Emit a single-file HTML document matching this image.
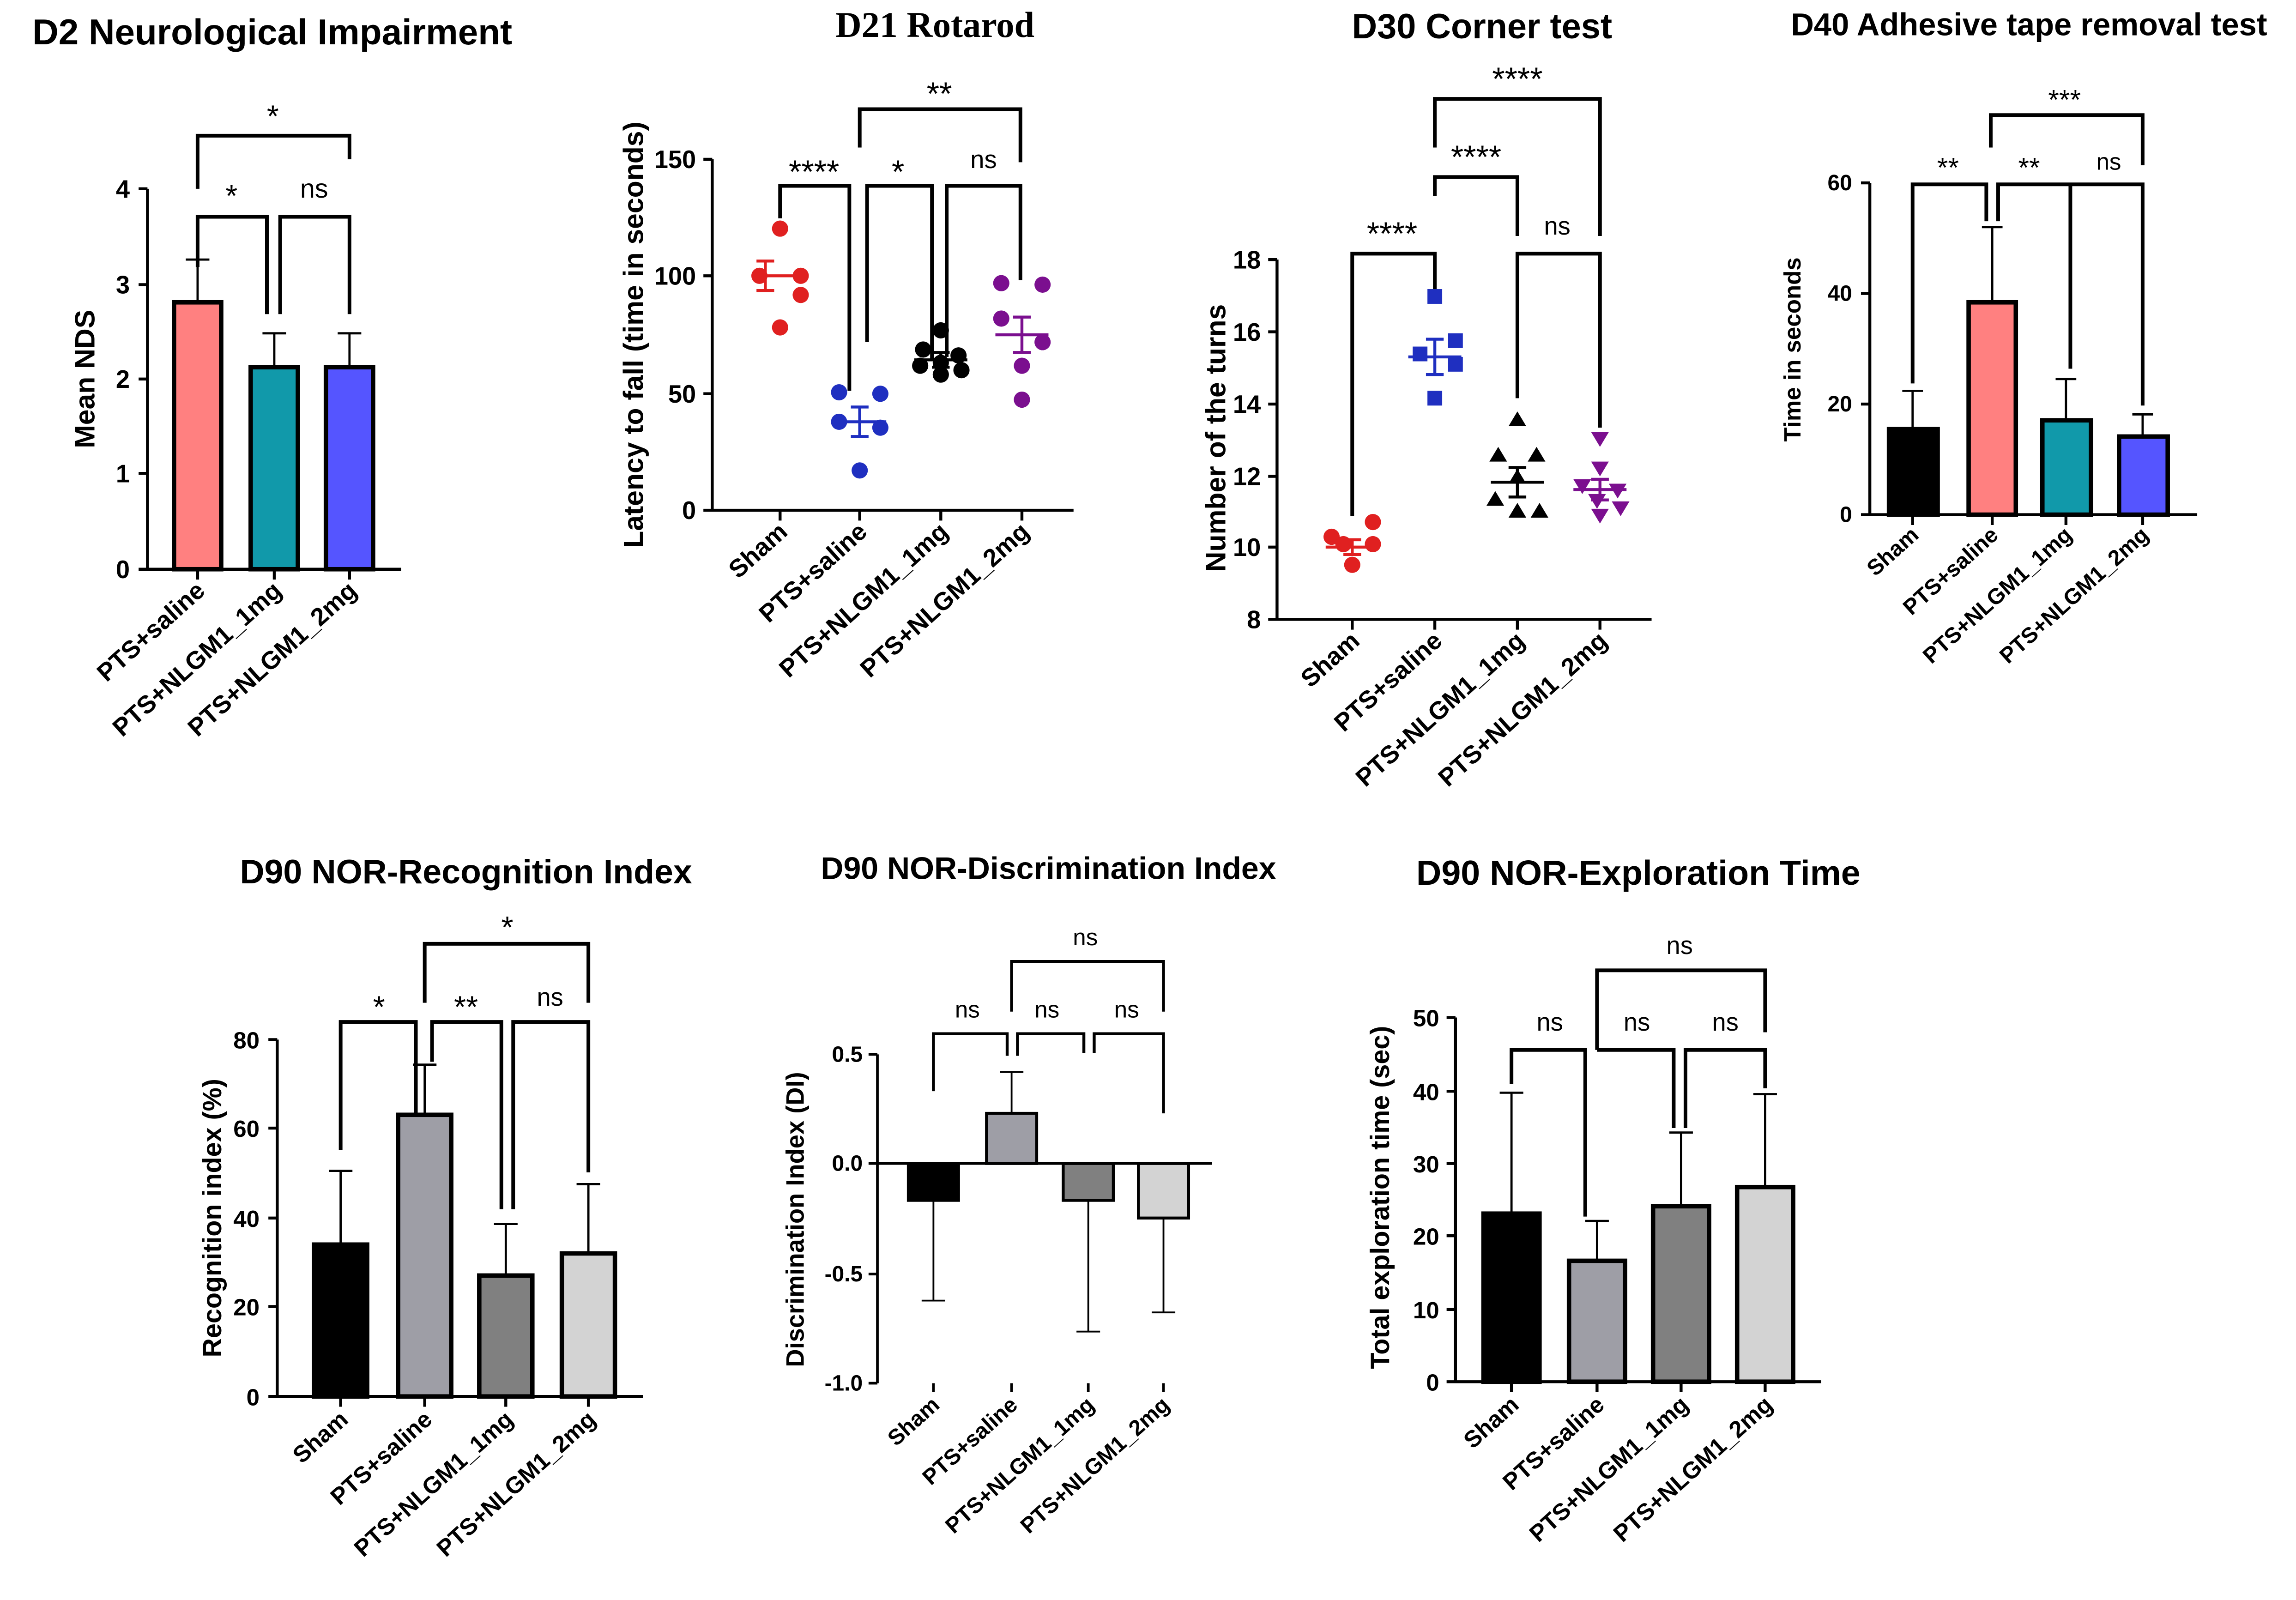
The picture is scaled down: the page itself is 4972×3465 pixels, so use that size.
<!DOCTYPE html>
<html><head><meta charset="utf-8"><style>html,body{margin:0;padding:0;background:#fff}svg{display:block}</style></head>
<body>
<svg width="4972" height="3465" viewBox="0 0 1557 1085" xmlns="http://www.w3.org/2000/svg" font-family="Liberation Sans, Arial, sans-serif">
<rect width="1557" height="1085" fill="#fff"/>
<g fill="none" stroke="#000" stroke-width="2">
<path d="M100 128V386H272 M94 128H100 M94 193H100 M94 257H100 M94 321H100 M94 386H100 M134 386v7 M186 386v7 M237 386v7"/>
<path d="M134 128V92H237V108 M134 181V147H181V213 M190 213V147H237V213" stroke-width="2.5"/>
<path d="M134 205V176M126 176H142 M186 249V226M178 226H194 M237 249V226M229 226H245" stroke-width="1.5"/>
</g>
<rect x="118" y="205" width="32" height="181" fill="#ff8080" stroke="#000" stroke-width="3"/>
<rect x="170" y="249" width="32" height="137" fill="#1199aa" stroke="#000" stroke-width="3"/>
<rect x="221" y="249" width="32" height="137" fill="#5555ff" stroke="#000" stroke-width="3"/>
<g font-weight="bold" font-size="17">
<text x="22" y="30" font-size="24.5">D2 Neurological Impairment</text>
<g text-anchor="end"><text x="88" y="134">4</text><text x="88" y="199">3</text><text x="88" y="263">2</text><text x="88" y="327">1</text><text x="88" y="392">0</text></g>
<text transform="translate(64 257) rotate(-90)" text-anchor="middle" font-size="19">Mean NDS</text>
<g text-anchor="end"><text transform="translate(140 402) rotate(-42)">PTS+saline</text><text transform="translate(192 402) rotate(-42)">PTS+NLGM1_1mg</text><text transform="translate(243 402) rotate(-42)">PTS+NLGM1_2mg</text></g>
<g text-anchor="middle" font-size="21" font-weight="normal"><text x="157" y="140">*</text><text x="213" y="134" font-size="18">ns</text><text x="185" y="86">*</text></g>
</g>

<g fill="none" stroke="#000" stroke-width="2">
<path d="M483 108V346H728 M477 108H483 M477 187H483 M477 267H483 M477 346H483 M529 346v7 M583 346v7 M638 346v7 M693 346v7"/>
<path d="M529 148V126H576V265 M588 232V126H632V245 M642 242V126H692V190 M583 100V74H692V110" stroke-width="2.5"/>
</g>
<g stroke-width="2" fill="none">
<path d="M511 187H547M519 177V197M513 177H525M513 197H525" stroke="#e02020"/>
<path d="M565 286H601M583 276V296M577 276H589M577 296H589" stroke="#1f2fc0"/>
<path d="M620 244H656M638 239V249M632 239H644M632 249H644" stroke="#000"/>
<path d="M675 227H711M693 215V239M687 215H699M687 239H699" stroke="#7b0f8f"/>
</g>
<g fill="#e02020"><circle cx="529" cy="155" r="5.5"/><circle cx="515" cy="187" r="5.5"/><circle cx="543" cy="187" r="5.5"/><circle cx="543" cy="200" r="5.5"/><circle cx="529" cy="222" r="5.5"/></g>
<g fill="#1f2fc0"><circle cx="569" cy="266" r="5.5"/><circle cx="597" cy="267" r="5.5"/><circle cx="569" cy="286" r="5.5"/><circle cx="597" cy="290" r="5.5"/><circle cx="583" cy="319" r="5.5"/></g>
<g fill="#000"><circle cx="638" cy="224" r="5.5"/><circle cx="626" cy="237" r="5.5"/><circle cx="650" cy="241" r="5.5"/><circle cx="638" cy="246" r="5.5"/><circle cx="624" cy="248" r="5.5"/><circle cx="652" cy="251" r="5.5"/><circle cx="638" cy="254" r="5.5"/></g>
<g fill="#7b0f8f"><circle cx="679" cy="192" r="5.5"/><circle cx="707" cy="193" r="5.5"/><circle cx="679" cy="216" r="5.5"/><circle cx="707" cy="232" r="5.5"/><circle cx="693" cy="248" r="5.5"/><circle cx="693" cy="271" r="5.5"/></g>
<g font-weight="bold" font-size="17">
<text x="634" y="25" text-anchor="middle" font-family="Liberation Serif, serif" font-size="24.5">D21 Rotarod</text>
<g text-anchor="end"><text x="472" y="114">150</text><text x="472" y="193">100</text><text x="472" y="273">50</text><text x="472" y="352">0</text></g>
<text transform="translate(436 227) rotate(-90)" text-anchor="middle" font-size="19">Latency to fall (time in seconds)</text>
<g text-anchor="end"><text transform="translate(535 362) rotate(-42)">Sham</text><text transform="translate(589 362) rotate(-42)">PTS+saline</text><text transform="translate(644 362) rotate(-42)">PTS+NLGM1_1mg</text><text transform="translate(699 362) rotate(-42)">PTS+NLGM1_2mg</text></g>
<g text-anchor="middle" font-size="22" font-weight="normal"><text x="552" y="124">****</text><text x="609" y="124">*</text><text x="667" y="114" font-size="17">ns</text><text x="637" y="71">**</text></g>
</g>

<g fill="none" stroke="#000" stroke-width="2">
<path d="M866 176V420H1120 M860 176H866 M860 225H866 M860 274H866 M860 323H866 M860 371H866 M860 420H866 M917 420v7 M973 420v7 M1029 420v7 M1085 420v7"/>
<path d="M917 350V172H973V200 M973 133V120H1029V160 M1029 270V172H1085V290 M973 100V67H1085V160" stroke-width="2.5"/>
</g>
<g stroke-width="2" fill="none">
<path d="M899 371H935M917 366V376M911 366H923M911 376H923" stroke="#e02020"/>
<path d="M955 242H991M973 230V254M967 230H979M967 254H979" stroke="#1f2fc0"/>
<path d="M1011 327H1047M1029 317V337M1023 317H1035M1023 337H1035" stroke="#000"/>
<path d="M1067 332H1103M1085 325V339M1079 325H1091M1079 339H1091" stroke="#7b0f8f"/>
</g>
<g fill="#e02020"><circle cx="931" cy="354" r="5.5"/><circle cx="903" cy="364" r="5.5"/><circle cx="931" cy="369" r="5.5"/><circle cx="911" cy="369" r="5.5"/><circle cx="917" cy="383" r="5.5"/></g>
<g fill="#1f2fc0"><rect x="968" y="196" width="10" height="10"/><rect x="982" y="226" width="10" height="10"/><rect x="958" y="235" width="10" height="10"/><rect x="982" y="242" width="10" height="10"/><rect x="968" y="265" width="10" height="10"/></g>
<g fill="#000"><path d="M1029 279l6 10h-12z M1016 303l6 10h-12z M1042 303l6 10h-12z M1029 318l6 10h-12z M1014 333l6 10h-12z M1029 341l6 10h-12z M1044 341l6 10h-12z"/></g>
<g fill="#7b0f8f"><path d="M1079 293h12l-6 10z M1079 313h12l-6 10z M1067 325h12l-6 10z M1091 328h12l-6 10z M1077 335h12l-6 10z M1093 340h12l-6 10z M1079 345h12l-6 10z"/></g>
<g font-weight="bold" font-size="17">
<text x="1005" y="26" text-anchor="middle" font-size="23.7">D30 Corner test</text>
<g text-anchor="end"><text x="855" y="182">18</text><text x="855" y="231">16</text><text x="855" y="280">14</text><text x="855" y="329">12</text><text x="855" y="377">10</text><text x="855" y="426">8</text></g>
<text transform="translate(831 297) rotate(-90)" text-anchor="middle" font-size="19">Number of the turns</text>
<g text-anchor="end"><text transform="translate(923 436) rotate(-42)">Sham</text><text transform="translate(979 436) rotate(-42)">PTS+saline</text><text transform="translate(1035 436) rotate(-42)">PTS+NLGM1_1mg</text><text transform="translate(1091 436) rotate(-42)">PTS+NLGM1_2mg</text></g>
<g text-anchor="middle" font-size="22" font-weight="normal"><text x="944" y="166">****</text><text x="1001" y="114">****</text><text x="1056" y="159" font-size="17">ns</text><text x="1029" y="61">****</text></g>
</g>

<g fill="none" stroke="#000" stroke-width="2">
<path d="M1268 124V349H1490 M1262 124H1268 M1262 199H1268 M1262 274H1268 M1262 349H1268 M1297 349v7 M1351 349v7 M1401 349v7 M1453 349v7"/>
<path d="M1297 260V125H1347V150 M1355 150V125H1404V250 M1404 250V125H1453V275 M1350 100V78H1453V112" stroke-width="2.5"/>
<path d="M1297 291V265M1290 265H1304 M1351 205V154M1344 154H1358 M1401 285V257M1394 257H1408 M1453 296V281M1446 281H1460" stroke-width="1.5"/>
</g>
<rect x="1281" y="291" width="33" height="58" fill="#000" stroke="#000" stroke-width="3"/>
<rect x="1335" y="205" width="32" height="144" fill="#ff8080" stroke="#000" stroke-width="3"/>
<rect x="1385" y="285" width="33" height="64" fill="#1199aa" stroke="#000" stroke-width="3"/>
<rect x="1437" y="296" width="33" height="53" fill="#5555ff" stroke="#000" stroke-width="3"/>
<g font-weight="bold" font-size="15">
<text x="1376" y="24" text-anchor="middle" font-size="21.5">D40 Adhesive tape removal test</text>
<g text-anchor="end"><text x="1256" y="129">60</text><text x="1256" y="204">40</text><text x="1256" y="279">20</text><text x="1256" y="354">0</text></g>
<text transform="translate(1221 237) rotate(-90)" text-anchor="middle" font-size="16">Time in seconds</text>
<g text-anchor="end"><text transform="translate(1302 364) rotate(-42)">Sham</text><text transform="translate(1356 364) rotate(-42)">PTS+saline</text><text transform="translate(1406 364) rotate(-42)">PTS+NLGM1_1mg</text><text transform="translate(1458 364) rotate(-42)">PTS+NLGM1_2mg</text></g>
<g text-anchor="middle" font-size="19" font-weight="normal"><text x="1321" y="120">**</text><text x="1376" y="120">**</text><text x="1430" y="115" font-size="16">ns</text><text x="1400" y="74">***</text></g>
</g>

<g fill="none" stroke="#000" stroke-width="2">
<path d="M188 705V947H436 M182 705H188 M182 765H188 M182 826H188 M182 886H188 M182 947H188 M231 947v7 M288 947v7 M343 947v7 M399 947v7"/>
<path d="M231 780V693H282V810 M293 720V693H340V820 M348 820V693H399V795 M288 680V640H399V680" stroke-width="2.5"/>
<path d="M231 844V794M223 794H239 M288 756V722M280 722H296 M343 865V830M335 830H351 M399 850V803M391 803H407" stroke-width="1.5"/>
</g>
<rect x="213" y="844" width="36" height="103" fill="#000" stroke="#000" stroke-width="3"/>
<rect x="270" y="756" width="36" height="191" fill="#9e9ea6" stroke="#000" stroke-width="3"/>
<rect x="325" y="865" width="36" height="82" fill="#808080" stroke="#000" stroke-width="3"/>
<rect x="381" y="850" width="36" height="97" fill="#d3d3d3" stroke="#000" stroke-width="3"/>
<g font-weight="bold" font-size="16">
<text x="316" y="599" text-anchor="middle" font-size="23">D90 NOR-Recognition Index</text>
<g text-anchor="end"><text x="176" y="711">80</text><text x="176" y="771">60</text><text x="176" y="832">40</text><text x="176" y="892">20</text><text x="176" y="953">0</text></g>
<text transform="translate(150 826) rotate(-90)" text-anchor="middle" font-size="18">Recognition index (%)</text>
<g text-anchor="end"><text transform="translate(237 964) rotate(-42)">Sham</text><text transform="translate(294 964) rotate(-42)">PTS+saline</text><text transform="translate(349 964) rotate(-42)">PTS+NLGM1_1mg</text><text transform="translate(405 964) rotate(-42)">PTS+NLGM1_2mg</text></g>
<g text-anchor="middle" font-size="21" font-weight="normal"><text x="257" y="690">*</text><text x="316" y="690">**</text><text x="373" y="682" font-size="17">ns</text><text x="344" y="636">*</text></g>
</g>

<g fill="none" stroke="#000" stroke-width="2">
<path d="M595 715V938 M589 715H595 M589 789H595 M589 864H595 M589 938H595 M595 789H822 M633 938v6 M686 938v6 M738 938v6 M789 938v6" stroke-width="1.8"/>
<path d="M633 740V701H683V716 M690 716V701H735V714 M742 714V701H789V755 M686 686V652H789V686" stroke-width="2"/>
<path d="M633 814V882M625 882H641 M686 755V727M678 727H694 M738 814V903M730 903H746 M789 826V890M781 890H797" stroke-width="1.2"/>
</g>
<rect x="616" y="789" width="34" height="25" fill="#000" stroke="#000" stroke-width="2"/>
<rect x="669" y="755" width="34" height="34" fill="#9e9ea6" stroke="#000" stroke-width="2"/>
<rect x="721" y="789" width="34" height="25" fill="#808080" stroke="#000" stroke-width="2"/>
<rect x="772" y="789" width="34" height="37" fill="#d3d3d3" stroke="#000" stroke-width="2"/>
<g font-weight="bold" font-size="15">
<text x="711" y="596" text-anchor="middle" font-size="21.3">D90 NOR-Discrimination Index</text>
<g text-anchor="end"><text x="585" y="720">0.5</text><text x="585" y="794">0.0</text><text x="585" y="869">-0.5</text><text x="585" y="943">-1.0</text></g>
<text transform="translate(545 827) rotate(-90)" text-anchor="middle" font-size="17">Discrimination Index (DI)</text>
<g text-anchor="end"><text transform="translate(638 954) rotate(-42)">Sham</text><text transform="translate(691 954) rotate(-42)">PTS+saline</text><text transform="translate(743 954) rotate(-42)">PTS+NLGM1_1mg</text><text transform="translate(794 954) rotate(-42)">PTS+NLGM1_2mg</text></g>
<g text-anchor="middle" font-size="16" font-weight="normal"><text x="656" y="690">ns</text><text x="710" y="690">ns</text><text x="764" y="690">ns</text><text x="736" y="641">ns</text></g>
</g>

<g fill="none" stroke="#000" stroke-width="2">
<path d="M987 690V937H1235 M981 690H987 M981 740H987 M981 789H987 M981 838H987 M981 888H987 M981 937H987 M1025 937v7 M1083 937v7 M1140 937v7 M1197 937v7"/>
<path d="M1025 735V712H1075V825 M1083 700V712 M1083 712H1135V765 M1143 765V712H1197V738 M1083 700V658H1197V700" stroke-width="2.5"/>
<path d="M1025 823V741M1017 741H1033 M1083 855V828M1075 828H1091 M1140 818V768M1132 768H1148 M1197 805V742M1189 742H1205" stroke-width="1.5"/>
</g>
<rect x="1006" y="823" width="38" height="114" fill="#000" stroke="#000" stroke-width="3"/>
<rect x="1064" y="855" width="38" height="82" fill="#9e9ea6" stroke="#000" stroke-width="3"/>
<rect x="1121" y="818" width="38" height="119" fill="#808080" stroke="#000" stroke-width="3"/>
<rect x="1178" y="805" width="38" height="132" fill="#d3d3d3" stroke="#000" stroke-width="3"/>
<g font-weight="bold" font-size="16">
<text x="1111" y="600" text-anchor="middle" font-size="23.6">D90 NOR-Exploration Time</text>
<g text-anchor="end"><text x="976" y="696">50</text><text x="976" y="746">40</text><text x="976" y="795">30</text><text x="976" y="844">20</text><text x="976" y="894">10</text><text x="976" y="943">0</text></g>
<text transform="translate(942 812) rotate(-90)" text-anchor="middle" font-size="18">Total exploration time (sec)</text>
<g text-anchor="end"><text transform="translate(1031 954) rotate(-42)">Sham</text><text transform="translate(1089 954) rotate(-42)">PTS+saline</text><text transform="translate(1146 954) rotate(-42)">PTS+NLGM1_1mg</text><text transform="translate(1203 954) rotate(-42)">PTS+NLGM1_2mg</text></g>
<g text-anchor="middle" font-size="17" font-weight="normal"><text x="1051" y="699">ns</text><text x="1110" y="699">ns</text><text x="1170" y="699">ns</text><text x="1139" y="647">ns</text></g>
</g>
</svg>
</body></html>
